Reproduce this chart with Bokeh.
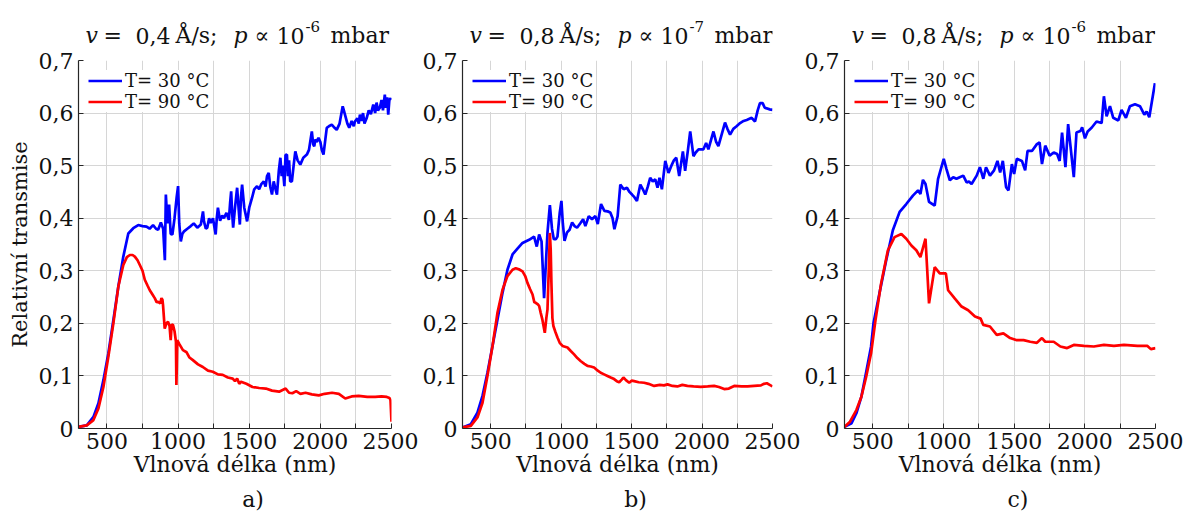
from bokeh.plotting import figure
from bokeh.layouts import row, column
from bokeh.models import (Range1d, FixedTicker, CustomJSTickFormatter, Label,
                          Legend, LegendItem)
from bokeh.embed import file_html
from bokeh.resources import INLINE

FONT = "DejaVu Serif"
BLUE = "#0000ff"
RED = "#ff0000"
GRID = "#d6d6d6"
AX = "#262626"
TXT = "#111111"

# ---------------- data ----------------
# panel a) v = 0,4 A/s ; p ~ 1e-6 mbar
wl_a_30 = [300, 358, 405, 440, 475, 510, 545, 580, 615, 650, 685, 720, 750, 778, 800, 824, 845, 860, 879, 895,
           907, 914, 925, 937, 948, 960, 975, 990, 1000, 1008, 1019, 1030, 1042, 1065, 1089, 1110, 1135, 1160,
           1175, 1182, 1195, 1205, 1218, 1229, 1245, 1264, 1272, 1280, 1295, 1310, 1322, 1340, 1357, 1366, 1373,
           1380, 1387, 1400, 1415, 1425, 1434, 1442, 1450, 1465, 1485, 1500, 1520, 1535, 1555, 1570, 1585, 1602,
           1615, 1625, 1637, 1648, 1660, 1672, 1685, 1695, 1708, 1719, 1728, 1735, 1747, 1755, 1765, 1772, 1780,
           1788, 1800, 1812, 1824, 1840, 1859, 1880, 1905, 1920, 1940, 1950, 1957, 1965, 1975, 1987, 2000, 2010,
           2022, 2035, 2045, 2060, 2080, 2100, 2115, 2135, 2157, 2165, 2173, 2190, 2203, 2220, 2235, 2243, 2260,
           2270, 2278, 2290, 2300, 2310, 2325, 2340, 2355, 2372, 2385, 2395, 2405, 2418, 2430, 2440, 2453, 2460,
           2470, 2477, 2485, 2493, 2500]
t_a_30 = [0.003, 0.006, 0.022, 0.048, 0.092, 0.143, 0.206, 0.27, 0.327, 0.371, 0.381, 0.387, 0.385, 0.384, 0.38,
          0.387, 0.38, 0.378, 0.392, 0.38, 0.32, 0.445, 0.39, 0.426, 0.37, 0.369, 0.40, 0.44, 0.461, 0.39, 0.356,
          0.37, 0.375, 0.38, 0.385, 0.39, 0.382, 0.388, 0.413, 0.394, 0.38, 0.382, 0.40, 0.391, 0.40, 0.369, 0.40,
          0.42, 0.395, 0.405, 0.40, 0.41, 0.397, 0.43, 0.451, 0.41, 0.382, 0.42, 0.458, 0.42, 0.388, 0.44, 0.464,
          0.42, 0.394, 0.42, 0.439, 0.455, 0.461, 0.455, 0.465, 0.47, 0.46, 0.48, 0.486, 0.46, 0.445, 0.47, 0.455,
          0.445, 0.49, 0.515, 0.48, 0.50, 0.461, 0.52, 0.521, 0.48, 0.51, 0.47, 0.47, 0.50, 0.527, 0.51, 0.502,
          0.515, 0.521, 0.53, 0.565, 0.54, 0.537, 0.55, 0.545, 0.553, 0.545, 0.53, 0.521, 0.55, 0.572, 0.575,
          0.578, 0.572, 0.568, 0.58, 0.613, 0.605, 0.597, 0.58, 0.572, 0.585, 0.575, 0.584, 0.59, 0.58, 0.597,
          0.585, 0.6, 0.58, 0.59, 0.605, 0.598, 0.616, 0.6, 0.62, 0.605, 0.61, 0.625, 0.605, 0.635, 0.61, 0.63,
          0.597, 0.625, 0.628, 0.625]
wl_a_90 = [300, 358, 405, 440, 475, 510, 545, 580, 615, 640, 661, 680, 696, 715, 731, 750, 766, 785, 801, 820,
           836, 850, 860, 875, 883, 890, 894, 906, 918, 929, 940, 948, 955, 964, 975, 985, 988, 991, 994, 1010,
           1034, 1060, 1080, 1104, 1140, 1174, 1210, 1244, 1280, 1314, 1350, 1384, 1400, 1415, 1430, 1442, 1480,
           1523, 1570, 1617, 1660, 1710, 1756, 1780, 1803, 1830, 1860, 1896, 1940, 1989, 2030, 2082, 2130, 2175,
           2220, 2269, 2330, 2385, 2430, 2467, 2486, 2493, 2500]
t_a_90 = [0.003, 0.006, 0.016, 0.038, 0.079, 0.137, 0.2, 0.27, 0.311, 0.326, 0.33, 0.33, 0.327, 0.32, 0.311,
          0.30, 0.283, 0.272, 0.263, 0.255, 0.248, 0.24, 0.241, 0.238, 0.248, 0.245, 0.235, 0.19, 0.20, 0.203,
          0.195, 0.168, 0.198, 0.197, 0.185, 0.165, 0.083, 0.12, 0.168, 0.16, 0.149, 0.145, 0.135, 0.13, 0.122,
          0.117, 0.11, 0.108, 0.103, 0.102, 0.097, 0.095, 0.09, 0.095, 0.085, 0.089, 0.085, 0.079, 0.077, 0.076,
          0.072, 0.07, 0.076, 0.068, 0.067, 0.071, 0.066, 0.068, 0.065, 0.063, 0.066, 0.068, 0.066, 0.057, 0.061,
          0.062, 0.06, 0.06, 0.061, 0.06, 0.058, 0.054, 0.013]

# panel b) v = 0,8 A/s ; p ~ 1e-7 mbar
wl_b_30 = [300, 359, 406, 442, 477, 513, 548, 584, 619, 655, 690, 726, 773, 808, 827, 844, 861, 879, 903, 920,
           935, 948, 962, 974, 990, 1002, 1012, 1024, 1042, 1060, 1078, 1095, 1113, 1135, 1156, 1172, 1196, 1219,
           1243, 1260, 1283, 1307, 1330, 1349, 1365, 1378, 1401, 1420, 1444, 1467, 1485, 1503, 1520, 1538, 1562,
           1580, 1597, 1615, 1632, 1650, 1668, 1684, 1698, 1715, 1739, 1762, 1786, 1800, 1817, 1838, 1864, 1880,
           1900, 1916, 1939, 1955, 1975, 2010, 2029, 2045, 2065, 2081, 2100, 2116, 2140, 2163, 2180, 2199, 2222,
           2245, 2270, 2295, 2317, 2352, 2376, 2395, 2411, 2430, 2445, 2458, 2480, 2500]
t_b_30 = [0.002, 0.008, 0.03, 0.062, 0.106, 0.157, 0.207, 0.258, 0.302, 0.331, 0.342, 0.353, 0.359, 0.365,
          0.346, 0.369, 0.356, 0.248, 0.372, 0.425, 0.38, 0.36, 0.36, 0.365, 0.41, 0.433, 0.39, 0.357, 0.373,
          0.378, 0.392, 0.385, 0.382, 0.39, 0.398, 0.385, 0.404, 0.398, 0.404, 0.389, 0.427, 0.414, 0.413, 0.411,
          0.40, 0.379, 0.404, 0.464, 0.455, 0.458, 0.45, 0.445, 0.44, 0.433, 0.464, 0.455, 0.445, 0.46, 0.477,
          0.47, 0.474, 0.458, 0.477, 0.455, 0.509, 0.486, 0.502, 0.51, 0.515, 0.48, 0.527, 0.49, 0.53, 0.565,
          0.518, 0.525, 0.531, 0.531, 0.543, 0.531, 0.55, 0.565, 0.545, 0.537, 0.56, 0.582, 0.57, 0.559, 0.57,
          0.575, 0.581, 0.585, 0.587, 0.591, 0.584, 0.605, 0.619, 0.619, 0.61, 0.609, 0.607, 0.606]
wl_b_90 = [300, 359, 406, 442, 477, 513, 548, 584, 619, 655, 678, 700, 726, 745, 761, 780, 797, 810, 820, 835,
           844, 855, 867, 884, 895, 903, 912, 920, 926, 931, 938, 945, 960, 974, 990, 1010, 1045, 1070, 1092, 1115,
           1140, 1165, 1187, 1210, 1234, 1260, 1281, 1305, 1329, 1352, 1376, 1395, 1412, 1430, 1442, 1460, 1483,
           1500, 1518, 1550, 1589, 1620, 1660, 1700, 1730, 1755, 1790, 1825, 1860, 1896, 1940, 1991, 2040, 2086,
           2120, 2157, 2190, 2228, 2280, 2323, 2370, 2418, 2440, 2460, 2480, 2500]
t_b_90 = [0.002, 0.005, 0.021, 0.049, 0.1, 0.157, 0.22, 0.264, 0.29, 0.302, 0.305, 0.303, 0.299, 0.29, 0.277,
          0.265, 0.255, 0.24, 0.239, 0.236, 0.233, 0.22, 0.207, 0.182, 0.21, 0.226, 0.30, 0.372, 0.34, 0.277,
          0.21, 0.195, 0.183, 0.173, 0.163, 0.157, 0.154, 0.147, 0.141, 0.134, 0.128, 0.123, 0.119, 0.118, 0.116,
          0.11, 0.106, 0.103, 0.1, 0.097, 0.094, 0.09, 0.088, 0.093, 0.097, 0.092, 0.087, 0.091, 0.09, 0.088,
          0.087, 0.085, 0.081, 0.083, 0.082, 0.084, 0.081, 0.08, 0.083, 0.081, 0.08, 0.079, 0.08, 0.081, 0.079,
          0.075, 0.076, 0.081, 0.08, 0.08, 0.081, 0.082, 0.085, 0.086, 0.083, 0.08]

# panel c) v = 0,8 A/s ; p ~ 1e-6 mbar
wl_c_30 = [300, 350, 384, 419, 448, 488, 505, 547, 595, 642, 690, 737, 784, 820, 837, 855, 873, 898, 938, 962,
           1002, 1021, 1045, 1069, 1092, 1115, 1140, 1164, 1180, 1199, 1235, 1258, 1282, 1301, 1329, 1358, 1382,
           1401, 1420, 1443, 1460, 1484, 1500, 1519, 1555, 1578, 1595, 1626, 1661, 1680, 1697, 1720, 1751, 1780,
           1804, 1822, 1839, 1863, 1882, 1922, 1941, 1969, 1981, 2001, 2020, 2048, 2083, 2119, 2135, 2154, 2178,
           2201, 2237, 2260, 2291, 2319, 2355, 2390, 2421, 2437, 2456, 2496]
t_c_30 = [0.003, 0.01, 0.029, 0.06, 0.10, 0.156, 0.2, 0.257, 0.32, 0.377, 0.412, 0.427, 0.443, 0.453, 0.446,
          0.473, 0.465, 0.431, 0.424, 0.475, 0.513, 0.494, 0.472, 0.478, 0.475, 0.478, 0.481, 0.468, 0.47, 0.465,
          0.481, 0.497, 0.475, 0.497, 0.481, 0.491, 0.509, 0.487, 0.509, 0.459, 0.453, 0.503, 0.484, 0.513, 0.509,
          0.491, 0.528, 0.528, 0.541, 0.544, 0.503, 0.538, 0.519, 0.525, 0.522, 0.509, 0.563, 0.497, 0.579, 0.478,
          0.563, 0.566, 0.573, 0.552, 0.565, 0.572, 0.584, 0.581, 0.632, 0.594, 0.613, 0.591, 0.586, 0.606, 0.591,
          0.613, 0.617, 0.613, 0.597, 0.603, 0.592, 0.657]
wl_c_90 = [300, 339, 384, 419, 453, 488, 519, 559, 607, 654, 702, 737, 773, 808, 837, 873, 898, 938, 974, 1017,
           1033, 1081, 1128, 1175, 1223, 1263, 1282, 1329, 1377, 1424, 1472, 1519, 1567, 1614, 1661, 1697, 1720,
           1780, 1827, 1875, 1922, 1993, 2064, 2135, 2206, 2277, 2372, 2443, 2467, 2500]
t_c_90 = [0.003, 0.013, 0.035, 0.06, 0.098, 0.143, 0.206, 0.276, 0.339, 0.364, 0.37, 0.361, 0.348, 0.339, 0.326,
          0.361, 0.238, 0.307, 0.295, 0.295, 0.263, 0.247, 0.232, 0.225, 0.213, 0.209, 0.197, 0.194, 0.178, 0.181,
          0.172, 0.168, 0.168, 0.165, 0.163, 0.172, 0.165, 0.165, 0.156, 0.153, 0.159, 0.157, 0.156, 0.159, 0.157,
          0.159, 0.157, 0.157, 0.151, 0.153]

x_ticks = [500, 750, 1000, 1250, 1500, 1750, 2000, 2250, 2500]
y_ticks = [0, 0.1, 0.2, 0.3, 0.4, 0.5, 0.6, 0.7]
legend_labels = ["T= 30 °C", "T= 90 °C"]
x_label = "Vlnová délka (nm)"
y_label = "Relativní transmise"

panels = [
    dict(wl30=wl_a_30, t30=t_a_30, wl90=wl_a_90, t90=t_a_90, speed="0,4", exp="-6", tag="a)",
         width=418, left=78, right=27, ylab=True),
    dict(wl30=wl_b_30, t30=t_b_30, wl90=wl_b_90, t90=t_b_90, speed="0,8", exp="-7", tag="b)",
         width=382, left=44, right=28, ylab=False),
    dict(wl30=wl_c_30, t30=t_c_30, wl90=wl_c_90, t90=t_c_90, speed="0,8", exp="-6", tag="c)",
         width=387, left=44, right=32, ylab=False),
]

TITLE_H = 48
MAIN_TOP = 12
MAIN_BOTTOM = 58
FRAME_H = 368
TAG_H = 26


def strip(d, height):
    s = figure(width=d["width"], height=height, output_backend="svg", toolbar_location=None,
               x_range=Range1d(300, 2500), y_range=Range1d(0, height),
               x_axis_type=None, y_axis_type=None,
               min_border_left=d["left"], min_border_right=d["right"], min_border_top=0, min_border_bottom=0)
    s.outline_line_color = None
    s.background_fill_color = "white"
    s.border_fill_color = "white"
    return s


def make_panel(d):
    # ---- title strip (mixed italic / upright pieces), offsets in px from the frame's left edge ----
    t = strip(d, TITLE_H)
    pieces = [("v", 7, "italic", 22, 13), ("=", 25, "normal", 22, 13), (d["speed"], 57, "normal", 22, 13),
              ("Å/s;", 97, "normal", 22, 13), ("p", 155, "italic", 22, 13), ("∝", 176, "normal", 22, 13),
              ("10", 198, "normal", 22, 13), (d["exp"], 227, "normal", 15, 22), ("mbar", 252, "normal", 22, 13)]
    for txt, xo, style, size, yb in pieces:
        t.add_layout(Label(x=300, y=yb, x_offset=xo, text=txt, text_font=FONT, text_font_style=style,
                           text_font_size=f"{size}px", text_color=TXT,
                           text_align="left", text_baseline="alphabetic"))

    # ---- main plot ----
    p = figure(width=d["width"], height=MAIN_TOP + FRAME_H + MAIN_BOTTOM, output_backend="svg",
               toolbar_location=None, x_range=Range1d(300, 2500), y_range=Range1d(0, 0.7),
               min_border_left=d["left"], min_border_right=d["right"],
               min_border_top=MAIN_TOP, min_border_bottom=MAIN_BOTTOM)
    p.outline_line_color = None
    p.background_fill_color = "white"
    p.border_fill_color = "white"

    p.xaxis.ticker = FixedTicker(ticks=x_ticks)
    p.yaxis.ticker = FixedTicker(ticks=y_ticks)
    p.xaxis.formatter = CustomJSTickFormatter(
        code="return (Math.round(tick) % 500 === 0) ? Math.round(tick).toString() : '';")
    p.yaxis.formatter = CustomJSTickFormatter(
        code="return Math.abs(tick) < 1e-9 ? '0' : tick.toFixed(1).replace('.', ',');")
    for ax in (p.xaxis[0], p.yaxis[0]):
        ax.axis_line_color = AX
        ax.axis_line_width = 1.2
        ax.major_tick_line_color = AX
        ax.major_tick_in = 5
        ax.major_tick_out = 0
        ax.minor_tick_line_color = None
        ax.major_label_text_font = FONT
        ax.major_label_text_font_size = "22px"
        ax.major_label_text_color = TXT
        ax.axis_label_text_font = FONT
        ax.axis_label_text_font_style = "normal"
        ax.axis_label_text_color = TXT
    p.xaxis.major_label_standoff = 4
    p.yaxis.major_label_standoff = 5
    p.xaxis.axis_label = x_label
    p.xaxis.axis_label_text_font_size = "22px"
    p.xaxis.axis_label_standoff = 0
    if d["ylab"]:
        p.yaxis.axis_label = y_label
        p.yaxis.axis_label_text_font_size = "21px"
        p.yaxis.axis_label_standoff = 4

    p.xgrid.grid_line_color = GRID
    p.ygrid.grid_line_color = GRID
    p.xgrid.grid_line_width = 1
    p.ygrid.grid_line_width = 1

    r30 = p.line(d["wl30"], d["t30"], line_color=BLUE, line_width=2.7)
    r90 = p.line(d["wl90"], d["t90"], line_color=RED, line_width=2.7)

    leg = Legend(items=[LegendItem(label=legend_labels[0], renderers=[r30]),
                        LegendItem(label=legend_labels[1], renderers=[r90])],
                 location="top_left", margin=10, padding=0, spacing=0,
                 glyph_width=34, glyph_height=17, label_height=17, label_standoff=3,
                 label_text_font=FONT, label_text_font_size="18px", label_text_color=TXT,
                 label_text_line_height=0.9,
                 border_line_color=None, background_fill_color="white", background_fill_alpha=1.0)
    p.add_layout(leg)

    # ---- panel tag strip ----
    g = strip(d, TAG_H)
    g.add_layout(Label(x=1400, y=TAG_H / 2, x_offset=18, text=d["tag"], text_font=FONT,
                       text_font_size="22px", text_color=TXT, text_align="center",
                       text_baseline="middle"))
    return column(t, p, g)


cols = [make_panel(d) for d in panels]
layout = row(*cols)
open("out.html", "w").write(file_html(layout, INLINE))
